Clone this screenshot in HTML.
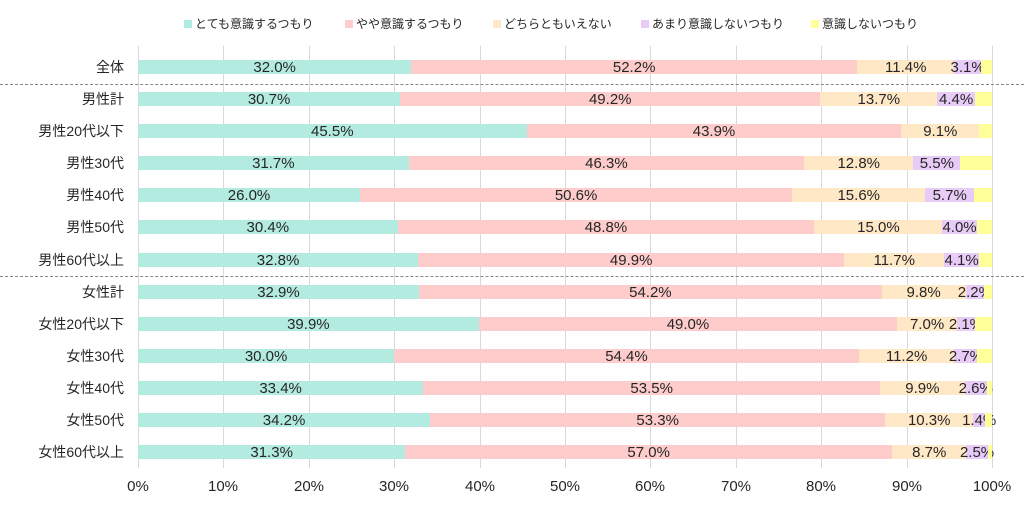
<!DOCTYPE html><html><head><meta charset="utf-8"><style>
body{margin:0;width:1024px;height:508px;background:#fff;font-family:"Liberation Sans","Noto Sans CJK JP",sans-serif;color:#262626;position:relative;overflow:hidden}
.g{position:absolute;top:46px;height:422px;width:1px;background:#d9d9d9}
.row{position:absolute;left:138px;width:854px;height:14px;display:flex}
.row div{height:14px;line-height:15px;font-size:15px;text-align:center;white-space:nowrap;overflow:visible;display:flex;justify-content:center}
.a{background:#b3ebe1}.b{background:#ffcccc}.c{background:#ffe8c6}.d{background:#e8ccf7}.e{background:#ffff99}
.lb{position:absolute;right:900px;font-size:14px;white-space:nowrap;margin-top:-2px}
.t{position:absolute;top:478px;font-size:15px;width:60px;margin-left:-30px;text-align:center}
.dash{position:absolute;left:0;width:1024px;border-top:1px dashed #888}
.lg{position:absolute;top:15px;font-size:12px;white-space:nowrap}
.lg i{display:inline-block;width:8px;height:8px;margin-right:3px;vertical-align:0}
</style></head><body>
<div class="lg" style="left:184px"><i class="a"></i>とても意識するつもり</div>
<div class="lg" style="left:345px"><i class="b"></i>やや意識するつもり</div>
<div class="lg" style="left:493px"><i class="c"></i>どちらともいえない</div>
<div class="lg" style="left:641px"><i class="d"></i>あまり意識しないつもり</div>
<div class="lg" style="left:811px"><i class="e"></i>意識しないつもり</div>
<div class="g" style="left:138px"></div><div class="g" style="left:223px"></div><div class="g" style="left:309px"></div><div class="g" style="left:394px"></div><div class="g" style="left:480px"></div><div class="g" style="left:565px"></div><div class="g" style="left:650px"></div><div class="g" style="left:736px"></div><div class="g" style="left:821px"></div><div class="g" style="left:907px"></div><div class="g" style="left:992px"></div>
<div class="dash" style="top:84px"></div><div class="dash" style="top:276px"></div>

<div class="lb" style="top:59px">全体</div>
<div class="row" style="top:60px"><div class="a" style="width:32%">32.0%</div><div class="b" style="width:52.2%">52.2%</div><div class="c" style="width:11.4%">11.4%</div><div class="d" style="width:3.1%">3.1%</div><div class="e" style="flex:1"></div></div>
<div class="lb" style="top:91px">男性計</div>
<div class="row" style="top:92px"><div class="a" style="width:30.7%">30.7%</div><div class="b" style="width:49.2%">49.2%</div><div class="c" style="width:13.7%">13.7%</div><div class="d" style="width:4.4%">4.4%</div><div class="e" style="flex:1"></div></div>
<div class="lb" style="top:123px">男性20代以下</div>
<div class="row" style="top:124px"><div class="a" style="width:45.5%">45.5%</div><div class="b" style="width:43.9%">43.9%</div><div class="c" style="width:9.1%">9.1%</div><div class="e" style="flex:1"></div></div>
<div class="lb" style="top:155px">男性30代</div>
<div class="row" style="top:156px"><div class="a" style="width:31.7%">31.7%</div><div class="b" style="width:46.3%">46.3%</div><div class="c" style="width:12.8%">12.8%</div><div class="d" style="width:5.5%">5.5%</div><div class="e" style="flex:1"></div></div>
<div class="lb" style="top:187px">男性40代</div>
<div class="row" style="top:188px"><div class="a" style="width:26%">26.0%</div><div class="b" style="width:50.6%">50.6%</div><div class="c" style="width:15.6%">15.6%</div><div class="d" style="width:5.7%">5.7%</div><div class="e" style="flex:1"></div></div>
<div class="lb" style="top:219px">男性50代</div>
<div class="row" style="top:220px"><div class="a" style="width:30.4%">30.4%</div><div class="b" style="width:48.8%">48.8%</div><div class="c" style="width:15%">15.0%</div><div class="d" style="width:4%">4.0%</div><div class="e" style="flex:1"></div></div>
<div class="lb" style="top:252px">男性60代以上</div>
<div class="row" style="top:253px"><div class="a" style="width:32.8%">32.8%</div><div class="b" style="width:49.9%">49.9%</div><div class="c" style="width:11.7%">11.7%</div><div class="d" style="width:4.1%">4.1%</div><div class="e" style="flex:1"></div></div>
<div class="lb" style="top:284px">女性計</div>
<div class="row" style="top:285px"><div class="a" style="width:32.9%">32.9%</div><div class="b" style="width:54.2%">54.2%</div><div class="c" style="width:9.8%">9.8%</div><div class="d" style="width:2.2%">2.2%</div><div class="e" style="flex:1"></div></div>
<div class="lb" style="top:316px">女性20代以下</div>
<div class="row" style="top:317px"><div class="a" style="width:39.9%">39.9%</div><div class="b" style="width:49%">49.0%</div><div class="c" style="width:7%">7.0%</div><div class="d" style="width:2.1%">2.1%</div><div class="e" style="flex:1"></div></div>
<div class="lb" style="top:348px">女性30代</div>
<div class="row" style="top:349px"><div class="a" style="width:30%">30.0%</div><div class="b" style="width:54.4%">54.4%</div><div class="c" style="width:11.2%">11.2%</div><div class="d" style="width:2.7%">2.7%</div><div class="e" style="flex:1"></div></div>
<div class="lb" style="top:380px">女性40代</div>
<div class="row" style="top:381px"><div class="a" style="width:33.4%">33.4%</div><div class="b" style="width:53.5%">53.5%</div><div class="c" style="width:9.9%">9.9%</div><div class="d" style="width:2.6%">2.6%</div><div class="e" style="flex:1"></div></div>
<div class="lb" style="top:412px">女性50代</div>
<div class="row" style="top:413px"><div class="a" style="width:34.2%">34.2%</div><div class="b" style="width:53.3%">53.3%</div><div class="c" style="width:10.3%">10.3%</div><div class="d" style="width:1.4%">1.4%</div><div class="e" style="flex:1"></div></div>
<div class="lb" style="top:444px">女性60代以上</div>
<div class="row" style="top:445px"><div class="a" style="width:31.3%">31.3%</div><div class="b" style="width:57%">57.0%</div><div class="c" style="width:8.7%">8.7%</div><div class="d" style="width:2.5%">2.5%</div><div class="e" style="flex:1"></div></div>

<div class="t" style="left:138px">0%</div><div class="t" style="left:223px">10%</div><div class="t" style="left:309px">20%</div><div class="t" style="left:394px">30%</div><div class="t" style="left:480px">40%</div><div class="t" style="left:565px">50%</div><div class="t" style="left:650px">60%</div><div class="t" style="left:736px">70%</div><div class="t" style="left:821px">80%</div><div class="t" style="left:907px">90%</div><div class="t" style="left:992px">100%</div>
</body></html>
